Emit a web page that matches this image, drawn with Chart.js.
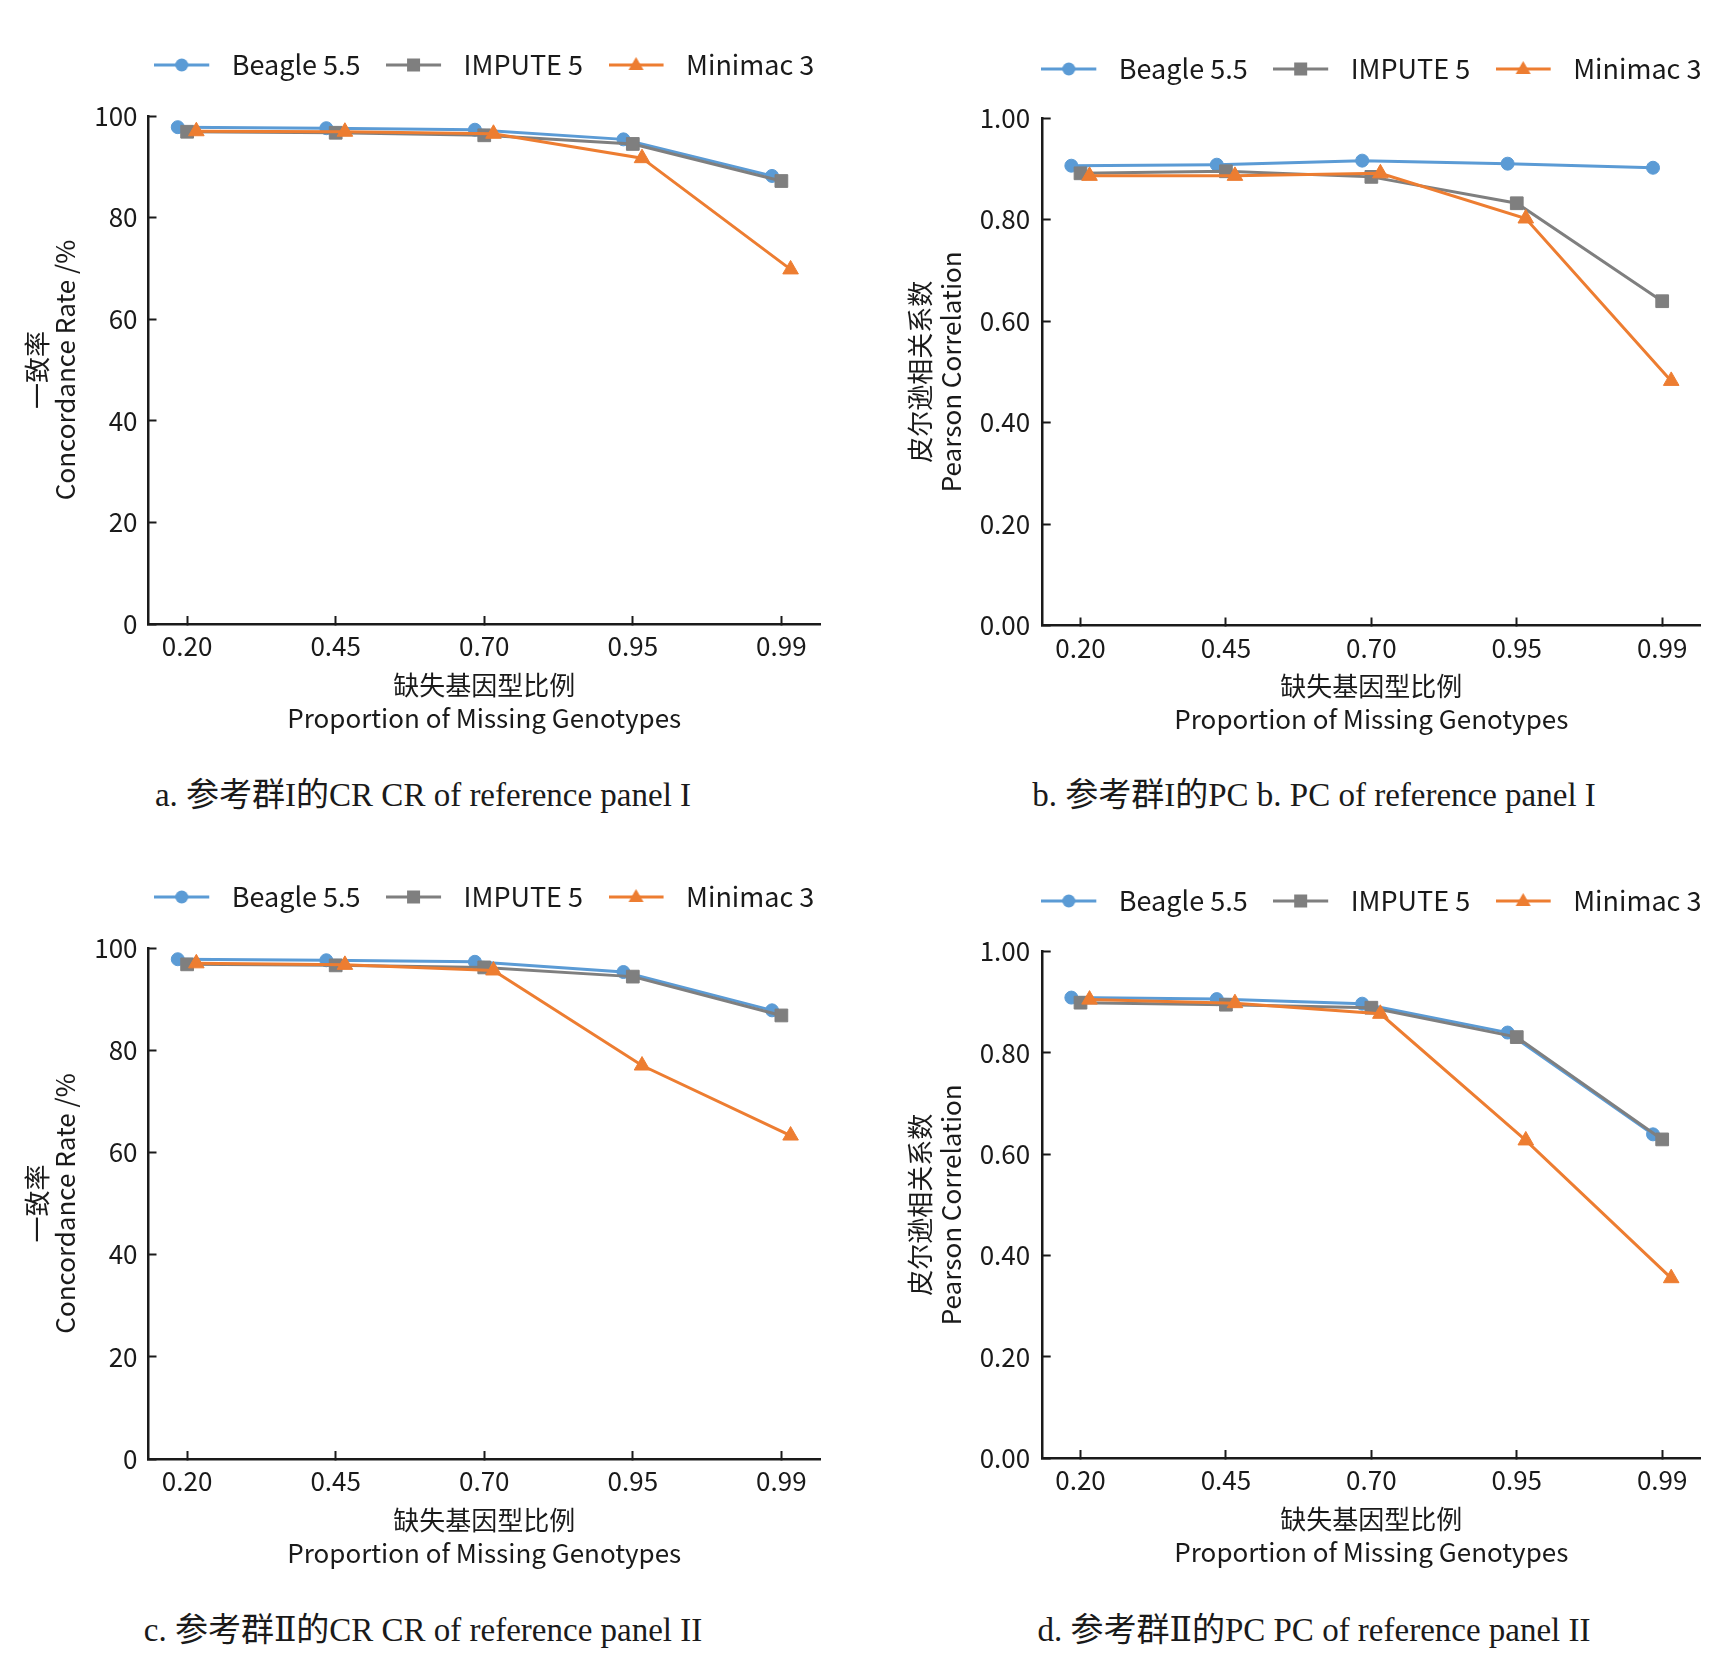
<!DOCTYPE html>
<html>
<head>
<meta charset="utf-8">
<title>Imputation accuracy</title>
<script src="https://cdn.jsdelivr.net/npm/chart.js@4.4.1/dist/chart.umd.min.js"></script>
<style>
  html, body { margin: 0; padding: 0; background: #fff; }
  body { width: 1731px; height: 1668px; position: relative; overflow: hidden; }
  canvas { position: absolute; }
  .caption {
    position: absolute;
    white-space: nowrap;
    transform: translate(-50%, -50%);
    font-family: "Liberation Serif", "DejaVu Serif", "Noto Sans CJK SC", serif;
    font-size: 33px;
    line-height: 38px;
    color: #1a1a1a;
  }
</style>
</head>
<body>
<canvas id="chartA" width="865" height="760" style="left:0;top:0"></canvas>
<canvas id="chartB" width="866" height="760" style="left:865px;top:0"></canvas>
<canvas id="chartC" width="865" height="760" style="left:0;top:832px"></canvas>
<canvas id="chartD" width="866" height="760" style="left:865px;top:832px"></canvas>

<div class="caption" style="left:423px;top:795px">a. 参考群I的CR CR of reference panel I</div>
<div class="caption" style="left:1314px;top:795px">b. 参考群I的PC b. PC of reference panel I</div>
<div class="caption" style="left:423px;top:1630px">c. 参考群Ⅱ的CR CR of reference panel II</div>
<div class="caption" style="left:1314px;top:1630px">d. 参考群Ⅱ的PC PC of reference panel II</div>

<script>
// x categories (proportion of missing genotypes)
const xLabels = ["0.20", "0.45", "0.70", "0.95", "0.99"];
const seriesNames = ["Beagle 5.5", "IMPUTE 5", "Minimac 3"];

// a. concordance rate, reference panel I (%)
const crBeagle1 = [97.8, 97.6, 97.3, 95.4, 88.2];
const crImpute1 = [96.9, 96.7, 96.2, 94.5, 87.2];
const crMinimac1 = [97.0, 96.9, 96.5, 91.7, 69.8];

// b. pearson correlation, reference panel I
const pcBeagle1 = [0.906, 0.908, 0.916, 0.910, 0.902];
const pcImpute1 = [0.891, 0.895, 0.884, 0.832, 0.639];
const pcMinimac1 = [0.886, 0.886, 0.891, 0.802, 0.482];

// c. concordance rate, reference panel II (%)
const crBeagle2 = [97.8, 97.6, 97.3, 95.3, 87.8];
const crImpute2 = [96.8, 96.6, 96.2, 94.4, 86.8];
const crMinimac2 = [97.0, 96.7, 95.6, 77.0, 63.3];

// d. pearson correlation, reference panel II
const pcBeagle2 = [0.909, 0.906, 0.897, 0.840, 0.639];
const pcImpute2 = [0.899, 0.895, 0.889, 0.831, 0.629];
const pcMinimac2 = [0.905, 0.898, 0.877, 0.627, 0.355];

const colors = ["#5b9bd5", "#7f7f7f", "#ed7d31"];
const styles = ["circle", "rect", "triangle"];
const radii = [6.5, 9, 9];
const shifts = [-0.063, 0, 0.062]; // small horizontal dodge per series
const textColor = "#1a1a1a";
const axisColor = "#1a1a1a";

Chart.defaults.font.family = '"Noto Sans CJK SC", "Noto Sans", sans-serif';
Chart.defaults.color = textColor;

const legendFont = 27;
const legendPad = 25.5;
const xAxisH = 110.5;

// legend icon: short line with the marker in the middle
function legendIcon(color, style) {
    const c = document.createElement("canvas");
    c.width = 64;
    c.height = 24;
    const g = c.getContext("2d");
    g.strokeStyle = color;
    g.fillStyle = color;
    g.lineWidth = 3;
    g.beginPath();
    g.moveTo(0, 12);
    g.lineTo(55, 12);
    g.stroke();
    const cx = 27.5, cy = 12;
    g.beginPath();
    if (style === "circle") {
        g.arc(cx, cy, 6.5, 0, Math.PI * 2);
    } else if (style === "rect") {
        g.rect(cx - 6.5, cy - 6.5, 13, 13);
    } else {
        g.moveTo(cx, cy - 8);
        g.lineTo(cx + 7.5, cy + 5);
        g.lineTo(cx - 7.5, cy + 5);
        g.closePath();
    }
    g.fill();
    return c;
}
const icons = colors.map((c, i) => legendIcon(c, styles[i]));

// legend: keep one row, centred over the plot, with extra room below it
const legendGap = {
    id: "legendGap",
    afterInit(chart, args, opts) {
        const legend = chart.legend;
        const fit = legend.fit;
        legend.fit = function () {
            const mw = this.maxWidth;
            this.maxWidth = mw + 2 * opts.widen;
            fit.call(this);
            this.maxWidth = mw;
            this.height += opts.extra;
        };
    },
    afterLayout(chart, args, opts) {
        chart.legend.left -= opts.widen;
        chart.legend.right += opts.widen;
        chart.legend.width += 2 * opts.widen;
    }
};

function makeSeries(values, i) {
    return {
        label: seriesNames[i],
        data: values.map((v, k) => ({ x: k + shifts[i], y: v })),
        borderColor: colors[i],
        backgroundColor: colors[i],
        pointBackgroundColor: colors[i],
        pointBorderColor: colors[i],
        pointBorderWidth: 1,
        borderWidth: 3,
        pointStyle: styles[i],
        pointRadius: radii[i],
        tension: 0,
        clip: false,
        order: 3 - i
    };
}

function makeChart(id, p) {
    const H = document.getElementById(id).height;
    const padTop = p.legendY - legendPad - legendFont / 2;
    const extra = p.top - padTop - (legendFont + legendPad + 10);
    const padBottom = H - xAxisH - p.bottom;

    const tickGrid = {
        drawOnChartArea: false,
        drawTicks: true,
        tickLength: -8,
        tickWidth: 2,
        tickColor: axisColor
    };
    const border = { display: true, color: axisColor, width: 2.5 };

    return new Chart(document.getElementById(id), {
        type: "line",
        data: { datasets: p.values.map((v, i) => makeSeries(v, i)) },
        options: {
            responsive: false,
            animation: false,
            events: [],
            layout: { padding: { top: padTop, right: p.right, bottom: padBottom, left: 0 } },
            plugins: {
                tooltip: { enabled: false },
                legendGap: { extra: extra, widen: 80 },
                legend: {
                    position: "top",
                    fullSize: false,
                    labels: {
                        usePointStyle: true,
                        pointStyleWidth: 64,
                        padding: legendPad,
                        color: textColor,
                        font: { size: legendFont },
                        generateLabels(chart) {
                            const items = Chart.defaults.plugins.legend.labels.generateLabels(chart);
                            items.sort((a, b) => a.datasetIndex - b.datasetIndex);
                            items.forEach((item) => { item.pointStyle = icons[item.datasetIndex]; });
                            return items;
                        }
                    }
                }
            },
            scales: {
                x: {
                    type: "linear",
                    min: -0.26,
                    max: 4.26,
                    afterBuildTicks(scale) {
                        scale.ticks = xLabels.map((_, i) => ({ value: i }));
                    },
                    afterFit(scale) { scale.height = xAxisH; },
                    grid: tickGrid,
                    border: border,
                    ticks: {
                        autoSkip: false,
                        maxRotation: 0,
                        padding: 15,
                        color: textColor,
                        font: { size: 26 },
                        callback: (v) => xLabels[v] ?? ""
                    },
                    title: {
                        display: true,
                        text: ["缺失基因型比例", "Proportion of Missing Genotypes"],
                        color: textColor,
                        font: { size: 26, lineHeight: 1.27 },
                        padding: { top: 0, bottom: 0 }
                    }
                },
                y: {
                    min: 0,
                    max: p.yMax,
                    afterFit(scale) { scale.width = p.yAxisW; },
                    grid: tickGrid,
                    border: border,
                    ticks: {
                        stepSize: p.yStep,
                        padding: p.yTickPad,
                        color: textColor,
                        font: { size: 26 },
                        callback: p.fmt
                    },
                    title: {
                        display: true,
                        text: p.yTitle,
                        color: textColor,
                        font: { size: 26, lineHeight: p.yTitleLH },
                        padding: { top: p.yTitlePad, bottom: 0 }
                    }
                }
            }
        },
        plugins: [legendGap]
    });
}

const crAxis = {
    yMax: 100, yStep: 20, fmt: (v) => String(Math.round(v)),
    yTitle: ["一致率", "Concordance Rate /%"],
    yAxisW: 148.5, yTickPad: 19, yTitleLH: 28 / 26, yTitlePad: 23, right: 45
};
const pcAxis = {
    yMax: 1, yStep: 0.2, fmt: (v) => v.toFixed(2),
    yTitle: ["皮尔逊相关系数", "Pearson Correlation"],
    yAxisW: 177.7, yTickPad: 20.5, yTitleLH: 31.7 / 26, yTitlePad: 39, right: 31
};

makeChart("chartA", Object.assign({}, crAxis, {
    values: [crBeagle1, crImpute1, crMinimac1], legendY: 65, top: 116, bottom: 624
}));
makeChart("chartB", Object.assign({}, pcAxis, {
    values: [pcBeagle1, pcImpute1, pcMinimac1], legendY: 69, top: 118, bottom: 625.5
}));
makeChart("chartC", Object.assign({}, crAxis, {
    values: [crBeagle2, crImpute2, crMinimac2], legendY: 65, top: 116, bottom: 627
}));
makeChart("chartD", Object.assign({}, pcAxis, {
    values: [pcBeagle2, pcImpute2, pcMinimac2], legendY: 69, top: 119.5, bottom: 626
}));
</script>
</body>
</html>
